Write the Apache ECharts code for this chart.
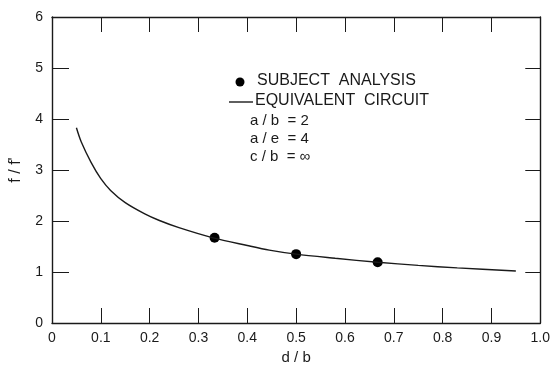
<!DOCTYPE html>
<html>
<head>
<meta charset="utf-8">
<script src="https://cdn.jsdelivr.net/npm/echarts@6/dist/echarts.min.js"></script>
<style>
  html, body {margin: 0; padding: 0; background: #fff;}
  #chart {width: 553px; height: 371px;}
</style>
</head>
<body>
<div id="chart"></div>
<script>
// equivalent circuit curve
const curveX = [0.05, 0.06, 0.08, 0.10, 0.12, 0.15, 0.19, 0.22, 0.26, 0.33, 0.40, 0.445, 0.50, 0.58, 0.667, 0.75, 0.83, 0.95];
const curveY = [3.83, 3.55, 3.15, 2.83, 2.60, 2.36, 2.14, 2.01, 1.87, 1.67, 1.52, 1.43, 1.35, 1.27, 1.19, 1.13, 1.08, 1.02];
// subject analysis points
const dotX = [0.333, 0.5, 0.667];
const dotY = [1.67, 1.35, 1.19];
const xTicks = ['0', '0.1', '0.2', '0.3', '0.4', '0.5', '0.6', '0.7', '0.8', '0.9', '1.0'];
const notes = ['a / b  = 2', 'a / e  = 4', 'c / b  = ∞'];

const ink = '#1a1a1a';
const font = '"Liberation Sans", Arial, sans-serif';

const chart = echarts.init(document.getElementById('chart'));

const boxAxis = (pos, extra) => Object.assign({
  type: 'value',
  position: pos,
  axisLine: {show: true, onZero: false, lineStyle: {color: ink, width: 1.4}},
  axisTick: {show: true, inside: true, length: 15, lineStyle: {color: ink, width: 1}},
  axisLabel: {show: false},
  splitLine: {show: false},
}, extra);

chart.setOption({
  animation: false,
  grid: {left: 51, right: 10, top: 17, bottom: 48},
  xAxis: [
    boxAxis('bottom', {
      min: 0, max: 1, interval: 0.1,
      name: 'd / b', nameLocation: 'middle', nameGap: 26,
      nameTextStyle: {color: ink, fontSize: 15, fontFamily: font},
      axisLabel: {
        show: true, margin: 8, color: ink, fontSize: 14, fontFamily: font,
        formatter: v => xTicks[Math.round(v * 10)]
      },
    }),
    boxAxis('top', {min: 0, max: 1, interval: 0.1}),
  ],
  yAxis: [
    boxAxis('left', {
      min: 0, max: 6, interval: 1,
      name: "f / f'", nameLocation: 'middle', nameGap: 28, nameRotate: 90,
      nameTextStyle: {color: ink, fontSize: 16, fontFamily: font},
      axisTick: {show: true, inside: true, length: 17, lineStyle: {color: ink, width: 1}},
      axisLabel: {show: true, margin: 9, color: ink, fontSize: 14, fontFamily: font},
    }),
    boxAxis('right', {min: 0, max: 6, interval: 1}),
  ],
  series: [
    {
      type: 'line',
      data: curveX.map((x, i) => [x, curveY[i]]),
      smooth: 0.3,
      showSymbol: false,
      lineStyle: {color: ink, width: 1.4},
    },
    {
      type: 'scatter',
      data: dotX.map((x, i) => [x, dotY[i]]),
      symbolSize: 10,
      itemStyle: {color: '#000', opacity: 1},
    },
  ],
  graphic: [
    {type: 'circle', shape: {cx: 240, cy: 82, r: 4.5}, style: {fill: '#000'}},
    {type: 'text', left: 257, top: 73, style: {text: 'SUBJECT  ANALYSIS', fill: ink, fontSize: 16, fontFamily: font}},
    {type: 'line', shape: {x1: 229, y1: 102, x2: 253, y2: 102}, style: {stroke: ink, lineWidth: 1.4}},
    {type: 'text', left: 255, top: 93, style: {text: 'EQUIVALENT  CIRCUIT', fill: ink, fontSize: 16, fontFamily: font}},
    ...notes.map((t, i) => ({
      type: 'text', left: 250, top: 113 + i * 18,
      style: {text: t, fill: ink, fontSize: 15, fontFamily: font}
    })),
  ],
});
</script>
</body>
</html>
